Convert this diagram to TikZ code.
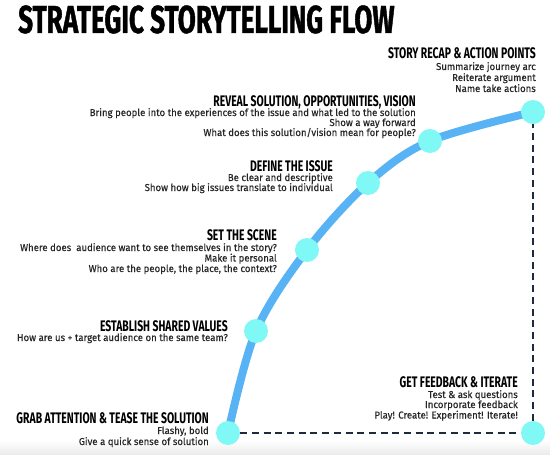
\documentclass[tikz,border=0pt]{standalone}
\usepackage{fontspec}
\newfontfamily\headfont[FakeStretch=0.68]{Fira Sans}
\newfontfamily\titlefont[FakeStretch=0.67,FakeBold=1]{Fira Sans}
\newfontfamily\bodyfont[FakeStretch=0.96,FakeBold=0.35]{Fira Sans}
\definecolor{curveblue}{HTML}{58B3F4}
\definecolor{dotcyan}{HTML}{80F8F5}
\definecolor{dashnavy}{HTML}{1E2B3C}
\definecolor{textgray}{HTML}{262626}
\tikzset{
  head/.style={anchor=base east, inner sep=0pt, font=\headfont\bfseries\fontsize{15.3}{16}\selectfont, text=black},
  body/.style={anchor=base east, inner sep=0pt, font=\bodyfont\fontsize{10}{11}\selectfont, text=textgray},
  dot/.style={circle, fill=dotcyan, minimum size=24pt, inner sep=0pt},
  dashline/.style={draw=dashnavy, line width=2.6pt, dash pattern=on 7pt off 4.7pt},
}
\begin{document}
\begin{tikzpicture}[x=1pt,y=-1pt]
\useasboundingbox (0,0) rectangle (550,455);
\fill[white] (0,0) rectangle (550,455);
\fill[top color=white, bottom color=black!8] (0,440) rectangle (550,455);
% title
\node[anchor=base west, inner sep=0pt, font=\titlefont\bfseries\fontsize{39}{39}\selectfont] (title) at (18,33) {STRATEGIC STORYTELLING FLOW};
% points
\coordinate (p1) at (228,433);
\coordinate (p2) at (256,331);
\coordinate (p3) at (307,250);
\coordinate (p4) at (368,183);
\coordinate (p5) at (430,141);
\coordinate (p6) at (533,112);
\coordinate (p7) at (533,433);
\draw[curveblue, line width=8pt] plot[smooth, tension=0.55] coordinates {(p1) (p2) (p3) (p4) (p5) (p6)};
\node[dot] (n1) at (p1) {};
\node[dot] (n2) at (p2) {};
\node[dot] (n3) at (p3) {};
\node[dot] (n4) at (p4) {};
\node[dot] (n5) at (p5) {};
\node[dot] (n6) at (p6) {};
\node[dot] (n7) at (p7) {};
\draw[dashline] (n1) -- (n7);
\draw[dashline] (n7) -- (n6);
% recap
\node[head] (h6) at (536,59) {STORY RECAP \& ACTION POINTS};
\node[body] (b6a) at (536,70) {Summarize journey arc};
\node[body] (b6b) at (536,81) {Reiterate argument};
\node[body] (b6c) at (536,92) {Name take actions};
% reveal
\node[head] (h5) at (416,106) {REVEAL SOLUTION, OPPORTUNITIES, VISION};
\node[body] (b5a) at (416,116) {Bring people into the experiences of the issue and what led to the solution};
\node[body] (b5b) at (416,126) {Show a way forward};
\node[body] (b5c) at (416,136) {What does this solution/vision mean for people?};
% define
\node[head] (h4) at (333,171) {DEFINE THE ISSUE};
\node[body] (b4a) at (333,181) {Be clear and descriptive};
\node[body] (b4b) at (333,191) {Show how big issues translate to individual};
% scene
\node[head] (h3) at (277,240.5) {SET THE SCENE};
\node[body] (b3a) at (277,251) {Where does\ \ audience want to see themselves in the story?};
\node[body] (b3b) at (277,261.5) {Make it personal};
\node[body] (b3c) at (277,272) {Who are the people, the place, the context?};
% establish
\node[head] (h2) at (228,331) {ESTABLISH SHARED VALUES};
\node[body] (b2a) at (228,341) {How are us + target audience on the same team?};
% feedback
\node[head] (h7) at (518,387) {GET FEEDBACK \& ITERATE};
\node[body] (b7a) at (518,398) {Test \& ask questions};
\node[body] (b7b) at (518,408) {Incorporate feedback};
\node[body] (b7c) at (518,418.5) {Play! Create! Experiment! Iterate!};
% grab
\node[head] (h1) at (209,423) {GRAB ATTENTION \& TEASE THE SOLUTION};
\node[body] (b1a) at (209,434) {Flashy, bold};
\node[body] (b1b) at (209,445) {Give a quick sense of solution};
\end{tikzpicture}
\end{document}
